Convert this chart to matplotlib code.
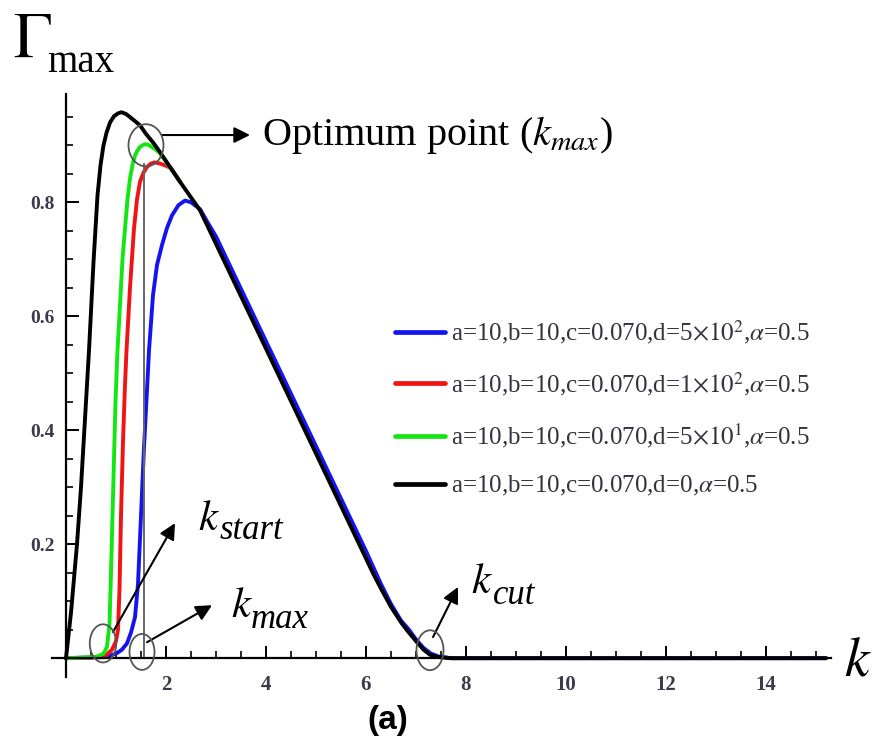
import numpy as np
import matplotlib
matplotlib.use("Agg")
import matplotlib.pyplot as plt
from matplotlib.patches import Ellipse
from matplotlib.ticker import MultipleLocator

plt.rcParams['font.family'] = ['Liberation Serif', 'DejaVu Serif']
plt.rcParams['mathtext.fontset'] = 'stix'

# curves (k, Gamma_max)
k_blue = [0, 0.8, 1.02, 1.12, 1.22, 1.3, 1.38, 1.44, 1.5, 1.56, 1.62, 1.66, 1.74, 1.82, 1.92, 2.02,
          2.12, 2.25, 2.38, 2.5, 2.68, 2.85, 3.0, 3.5, 4.0, 4.5, 5.0, 5.5, 6.0, 6.3, 6.5, 6.7, 6.86,
          7.0, 7.15, 7.3, 7.45, 7.7, 15.2]
g_blue = [0, 0.002, 0.009, 0.015, 0.026, 0.045, 0.072, 0.13, 0.25, 0.37, 0.47, 0.54, 0.637, 0.69, 0.725, 0.755,
          0.777, 0.795, 0.803, 0.8, 0.788, 0.762, 0.74, 0.648, 0.556, 0.464, 0.372, 0.28, 0.188, 0.13, 0.095,
          0.066, 0.05, 0.033, 0.018, 0.008, 0.003, 0, 0]

k_red = [0, 0.5, 0.8, 0.92, 1.0, 1.04, 1.07, 1.1, 1.14, 1.18, 1.21, 1.28, 1.36, 1.42, 1.48, 1.55,
         1.62, 1.7, 1.78, 1.88, 2.0, 2.1, 2.28]
g_red = [0, 0.001, 0.005, 0.015, 0.03, 0.05, 0.12, 0.25, 0.38, 0.48, 0.54, 0.65, 0.754, 0.805, 0.836, 0.852,
         0.862, 0.868, 0.87, 0.868, 0.864, 0.86, 0.836]

k_green = [0, 0.6, 0.75, 0.82, 0.87, 0.9, 0.93, 0.96, 0.99, 1.03, 1.08, 1.13, 1.18, 1.23, 1.28,
           1.33, 1.38, 1.43, 1.48, 1.53, 1.58, 1.64, 1.7, 1.8, 1.88, 2.28]
g_green = [0, 0.002, 0.008, 0.02, 0.06, 0.15, 0.25, 0.35, 0.45, 0.54, 0.62, 0.7, 0.754, 0.805, 0.842,
           0.866, 0.882, 0.891, 0.897, 0.9, 0.902, 0.901, 0.898, 0.892, 0.886, 0.836]

k_black = [0, 0.1, 0.22, 0.3, 0.38, 0.46, 0.55, 0.63, 0.69, 0.75, 0.81, 0.88, 0.96, 1.04, 1.11,
           1.2, 1.3, 1.4, 1.48, 1.6, 1.75, 1.88, 2.08, 2.28, 2.48, 2.68, 3.0, 3.5, 4.0, 4.5, 5.0,
           5.5, 6.0, 6.14, 6.3, 6.5, 6.7, 6.82, 7.0, 7.15, 7.28, 7.45, 7.7, 15.2]
g_black = [0, 0.08, 0.2, 0.3, 0.42, 0.54, 0.695, 0.812, 0.865, 0.9, 0.922, 0.94, 0.951, 0.956, 0.958,
           0.955, 0.948, 0.941, 0.935, 0.92, 0.904, 0.888, 0.862, 0.836, 0.811, 0.786, 0.727, 0.635, 0.543, 0.451, 0.359,
           0.267, 0.175, 0.149, 0.122, 0.09, 0.063, 0.049, 0.03, 0.015, 0.006, 0.002, 0, 0]

labels = [r'a=10,b=10,c=0.070,d=5$\times 10^{2}$,$\alpha$=0.5',
          r'a=10,b=10,c=0.070,d=1$\times 10^{2}$,$\alpha$=0.5',
          r'a=10,b=10,c=0.070,d=5$\times 10^{1}$,$\alpha$=0.5',
          r'a=10,b=10,c=0.070,d=0,$\alpha$=0.5']
colors = ['#1414f0', '#f01414', '#14e614', '#000000']

W, H = 875, 755
fig = plt.figure(figsize=(W / 100, H / 100), dpi=100)
ax = fig.add_axes([52 / W, 78 / H, 779 / W, 583 / H])

for kk, gg, lab, col in zip([k_blue, k_red, k_green, k_black], [g_blue, g_red, g_green, g_black], labels, colors):
    ax.plot(kk, gg, color=col, lw=2.8, label=lab, solid_capstyle='round', solid_joinstyle='round')

# k_max marker line
ax.plot([1.56, 1.56], [0, 0.868], color='#666666', lw=1.4)

# circles
for (cx, cy, w, h) in [(1.6, 0.90, 0.7, 0.074), (0.74, 0.026, 0.53, 0.067),
                       (1.52, 0.011, 0.5, 0.063), (7.28, 0.014, 0.54, 0.07)]:
    ax.add_patch(Ellipse((cx, cy), w, h, fill=False, ec='#555555', lw=1.3, zorder=5))

arrow = dict(arrowstyle='-|>', mutation_scale=24, lw=1.5, color='black', shrinkA=0, shrinkB=0)
ax.annotate('', xy=(3.68, 0.918), xytext=(1.92, 0.918), arrowprops=arrow)
ax.annotate('', xy=(2.18, 0.237), xytext=(0.94, 0.046), arrowprops=arrow)
ax.annotate('', xy=(2.92, 0.093), xytext=(1.62, 0.028), arrowprops=arrow)
ax.annotate('', xy=(7.84, 0.125), xytext=(7.34, 0.037), arrowprops=arrow)

ax.text(3.92, 0.918, r'Optimum point ($k_{max}$)', fontsize=29, va='center', ha='left')


def klabel(px, base, sub, sub_dx, sub_base):
    fig.text(px / W, 1 - base / H, r'$k$', fontsize=31, va='baseline', ha='left')
    fig.text((px + sub_dx) / W, 1 - sub_base / H, sub, fontsize=25, style='italic',
             va='baseline', ha='left', family=['Liberation Serif'])


klabel(198, 530, 'start', 22, 539)
klabel(231, 617, 'max', 20, 628)
klabel(471, 593, 'cut', 22, 604)

ax.set_xlim(-0.28, 15.3)
ax.set_ylim(-0.033, 0.99)
ax.spines['left'].set_position(('data', 0))
ax.spines['bottom'].set_position(('data', 0))
ax.spines['top'].set_visible(False)
ax.spines['right'].set_visible(False)
for s in ['left', 'bottom']:
    ax.spines[s].set_linewidth(1.6)

ax.set_xticks([2, 4, 6, 8, 10, 12, 14])
ax.set_yticks([0.2, 0.4, 0.6, 0.8])
ax.xaxis.set_minor_locator(MultipleLocator(0.5))
ax.yaxis.set_minor_locator(MultipleLocator(0.05))
ax.tick_params(which='major', direction='in', length=9, width=1.4)
ax.tick_params(which='minor', direction='in', length=5, width=1.2)
ax.tick_params(axis='x', which='major', pad=12, labelsize=15, labelcolor='#3a3a4c')
ax.tick_params(axis='y', which='major', pad=8, labelsize=14, labelcolor='#3a3a4c')
for t in ax.get_xticklabels() + ax.get_yticklabels():
    t.set_fontweight('bold')

leg = ax.legend(loc='center left', bbox_to_anchor=(395 / W, 1 - 408 / H), bbox_transform=fig.transFigure,
                frameon=False, fontsize=18, handlelength=2.0, handletextpad=0.25, labelspacing=0.95,
                borderpad=0, borderaxespad=0)
for line in leg.get_lines():
    line.set_linewidth(3.4)
for t in leg.get_texts():
    t.set_color('#333340')

fig.text(13 / W, 1 - 57 / H, r'$\Gamma$', fontsize=46, va='baseline', ha='left')
fig.text(47 / W, 1 - 72 / H, 'max', fontsize=28, va='baseline', ha='left')
fig.text(844 / W, 1 - 676 / H, r'$k$', fontsize=40, va='baseline', ha='left')
fig.text(388 / W, 1 - 720 / H, '(a)', fontsize=24, fontweight='bold', va='center', ha='center',
         family='Liberation Sans')

fig.savefig('out.png', dpi=100)
